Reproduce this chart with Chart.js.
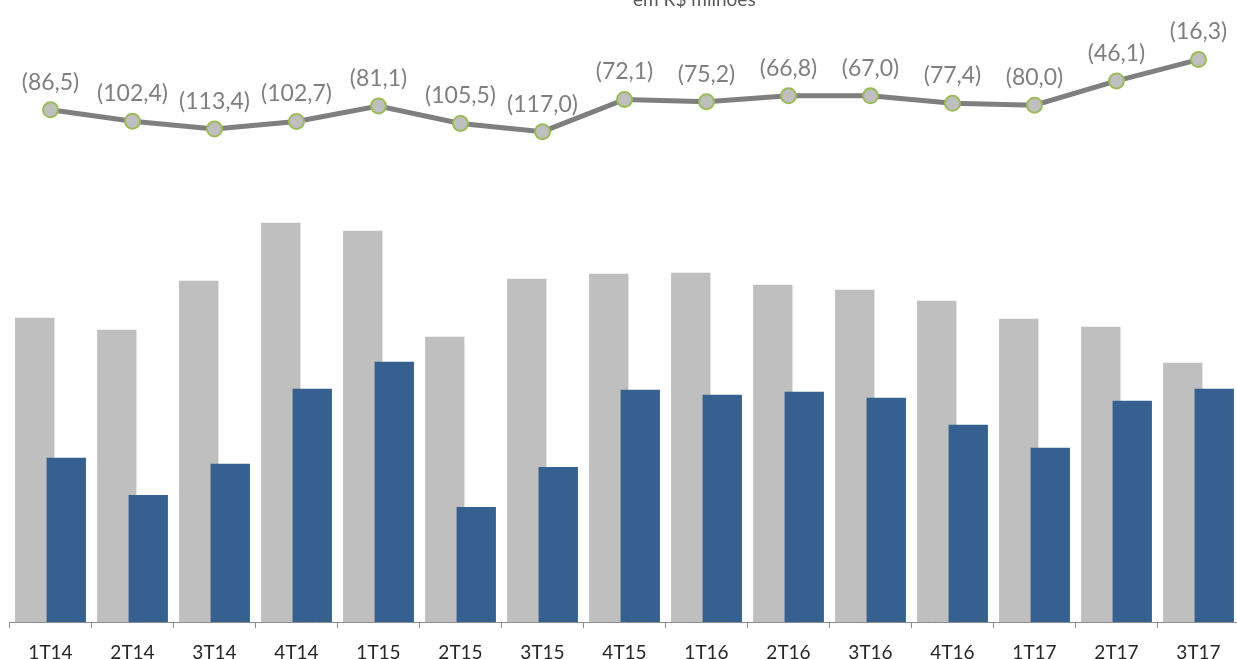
<!DOCTYPE html>
<html>
<head>
<meta charset="utf-8">
<script src="https://cdn.jsdelivr.net/npm/chart.js@4/dist/chart.umd.min.js"></script>
<style>
    html, body { margin: 0; padding: 0; background: #fff; overflow: hidden; }
    #wrap { position: relative; width: 1237px; height: 659px; overflow: hidden; }
    /* the chart keeps a little room around the line points, so the canvas is set a bit larger and shifted up */
    #box { position: absolute; left: 0; top: -10px; width: 1249px; height: 669px; }
    #unit {
        position: absolute; left: 633px; top: -13px;
        font: 19px Lato, sans-serif; color: #595959; white-space: nowrap;
    }
</style>
</head>
<body>
<div id="wrap">
    <div id="box"><canvas id="chart" width="1249" height="669"></canvas></div>
    <div id="unit">em R$ milhões</div>
</div>
<script>
// Quarters
const quarters = ['1T14', '2T14', '3T14', '4T14', '1T15', '2T15', '3T15', '4T15',
                  '1T16', '2T16', '3T16', '4T16', '1T17', '2T17', '3T17'];

// Gray bars (no scale shown, read as relative heights)
const grayValues = [304, 292, 341, 399, 391, 285, 343, 348, 349, 337, 332, 321, 303, 295, 259];

// Blue bars
const blueValues = [164, 127, 158, 233, 260, 115, 155, 232, 227, 230, 224, 197, 174, 221, 233];

// Line (negative results, shown in parentheses)
const lineValues = [-86.5, -102.4, -113.4, -102.7, -81.1, -105.5, -117.0, -72.1,
                    -75.2, -66.8, -67.0, -77.4, -80.0, -46.1, -16.3];

// Format a negative value like (86,5)
function formatParen(value) {
    return '(' + Math.abs(value).toFixed(1).replace('.', ',') + ')';
}

// Draw labels above the line points
const lineLabels = {
    id: 'lineLabels',
    afterDatasetsDraw(chart) {
        const ctx = chart.ctx;
        const meta = chart.getDatasetMeta(2);
        ctx.save();
        ctx.font = '23px Lato, sans-serif';
        ctx.fillStyle = '#7f7f7f';
        ctx.textAlign = 'center';
        ctx.textBaseline = 'bottom';
        meta.data.forEach((pt, i) => {
            ctx.fillText(formatParen(lineValues[i]), pt.x, pt.y - 16);
        });
        ctx.restore();
    }
};

// Blue bars must sit on top of the gray ones
const blueOnTop = {
    id: 'blueOnTop',
    beforeDatasetDraw(chart, args) {
        if (args.index === 1 && !chart._drawingBlue) return false;
    },
    afterDatasetDraw(chart, args) {
        if (args.index === 0) {
            chart._drawingBlue = true;
            chart.getDatasetMeta(1).controller.draw();
            chart._drawingBlue = false;
        }
    }
};

const ctx = document.getElementById('chart').getContext('2d');
new Chart(ctx, {
    data: {
        labels: quarters,
        datasets: [
            {
                type: 'bar',
                data: grayValues,
                backgroundColor: '#bfbfbf',
                categoryPercentage: 0.768,
                barPercentage: 1.25,
                yAxisID: 'y'
            },
            {
                type: 'bar',
                data: blueValues,
                backgroundColor: '#36608f',
                categoryPercentage: 0.768,
                barPercentage: 1.25,
                yAxisID: 'y'
            },
            {
                type: 'line',
                data: lineValues,
                borderColor: '#7f7f7f',
                borderWidth: 5,
                pointRadius: 7.5,
                pointBackgroundColor: '#bfbfbf',
                pointBorderColor: '#9bbb59',
                pointBorderWidth: 2,
                tension: 0,
                yAxisID: 'y2'
            }
        ]
    },
    options: {
        responsive: false,
        animation: false,
        layout: { padding: 0 },
        plugins: {
            legend: { display: false },
            tooltip: { enabled: false }
        },
        scales: {
            x: {
                afterFit(scale) { scale.height = 37; },
                grid: {
                    offset: true,
                    drawOnChartArea: false,
                    drawTicks: true,
                    tickLength: 6,
                    color: '#8c8c8c'
                },
                border: { color: '#8c8c8c', width: 1 },
                ticks: {
                    color: '#262626',
                    font: { family: 'Lato', size: 19 },
                    padding: 13,
                    maxRotation: 0
                }
            },
            y: { display: false, min: 0, max: 622 },
            y2: { display: false, min: -802, max: 67.6 }
        }
    },
    plugins: [lineLabels, blueOnTop]
});
</script>
</body>
</html>
